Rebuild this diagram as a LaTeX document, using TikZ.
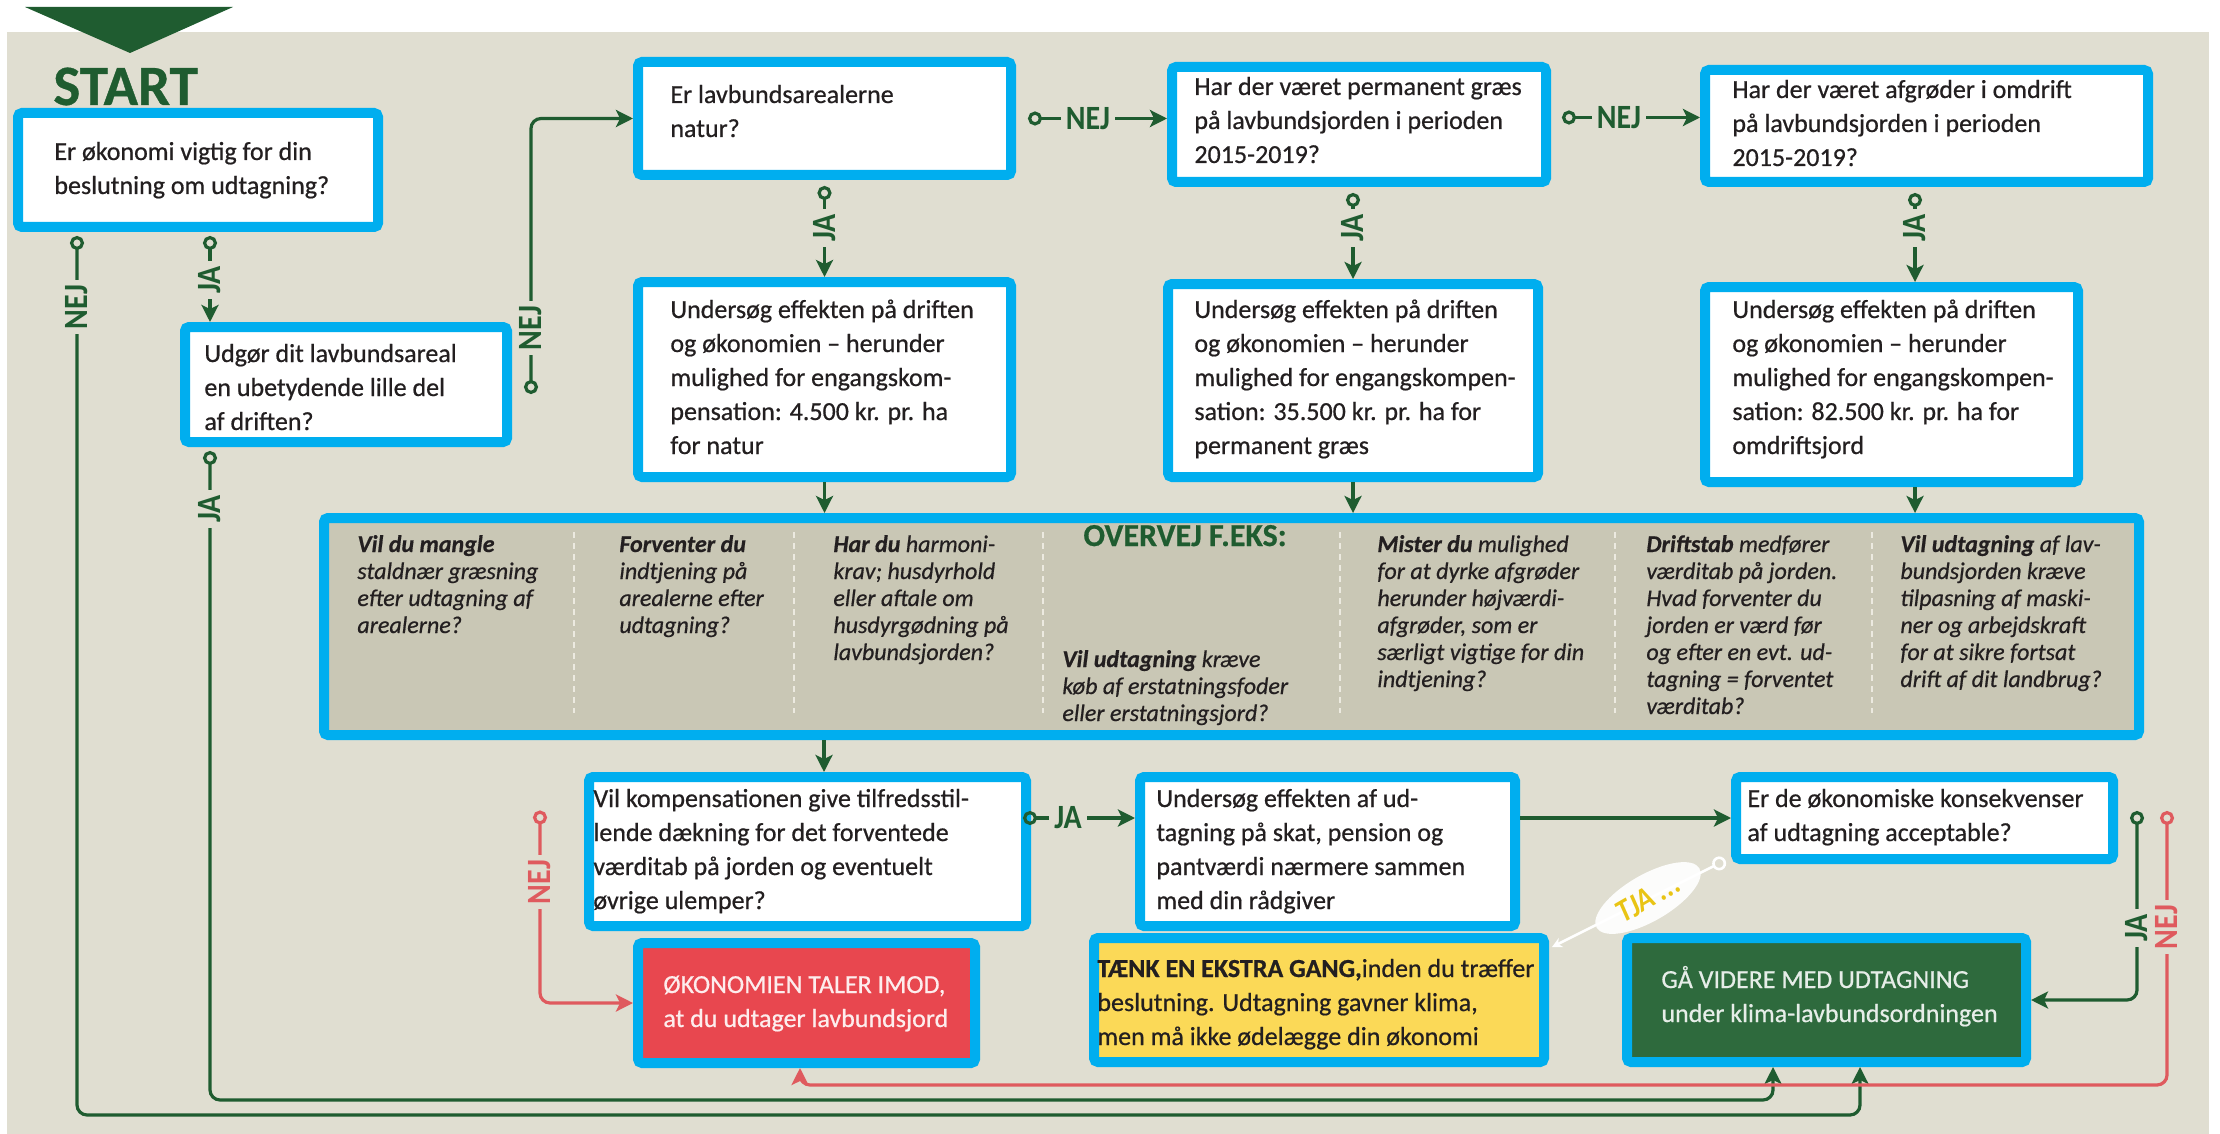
\documentclass[tikz,border=0pt]{standalone}
\usepackage{fontspec}
\setmainfont[FakeBold=0.6]{Carlito}
\newfontfamily\lblf[FakeStretch=0.88]{Carlito}
\usetikzlibrary{arrows.meta,calc,shapes.geometric}
\definecolor{beige}{HTML}{E0DED1}
\definecolor{cyanb}{HTML}{00AEEF}
\definecolor{dgreen}{HTML}{1F5C30}
\definecolor{lgreen}{HTML}{2E6A3D}
\definecolor{redb}{HTML}{E8474F}
\definecolor{redl}{HTML}{DF5A5E}
\definecolor{yel}{HTML}{FBD957}
\definecolor{bandc}{HTML}{C9C7B5}
\definecolor{txt}{HTML}{231F20}
\definecolor{sepc}{HTML}{ECEAE0}
\definecolor{tjay}{HTML}{E9C414}
\newcommand\mytxt[1]{\begin{tabular}[t]{@{}l@{}}#1\end{tabular}}
\tikzset{
  box/.style={draw=cyanb, line width=5pt, rounded corners=2pt, inner sep=0pt},
  wbox/.style={box, fill=white},
  tx/.style={anchor=base west, inner sep=0pt, text=txt, font=\fontsize{13}{17}\selectfont},
  btx/.style={anchor=base west, inner sep=0pt, text=txt, font=\itshape\fontsize{12}{13.5}\selectfont},
  gl/.style={draw=dgreen, line width=1.6pt, rounded corners=5pt},
  rl/.style={draw=redl, line width=1.6pt, rounded corners=5pt},
  arr/.style={arrows={-Stealth[length=8.5pt,width=8.5pt,inset=2pt]}},
  cyarr/.style={arrows={Circle[open,length=7pt,width=7pt]-Stealth[length=8.5pt,width=8.5pt,inset=2pt]}},
  lbl/.style={fill=beige, inner xsep=2.5pt, inner ysep=0pt, text=dgreen, font=\lblf\bfseries\fontsize{17}{17}\selectfont},
  rlbl/.style={lbl, text=redl},
  sepl/.style={draw=sepc, line width=1pt, dash pattern=on 3pt off 2.5pt}
}
\begin{document}
\begin{tikzpicture}[x=0.5pt,y=-0.5pt]
\useasboundingbox (0,0) rectangle (2220,1134);
\fill[white] (0,0) rectangle (2220,1134);
\fill[beige] (7,32) rectangle (2209,1134);
\fill[dgreen] (25,7) -- (233,7) -- (130,53) -- cycle;
\node[anchor=base west, inner sep=0pt, text=dgreen, font=\bfseries\fontsize{28.5}{28.5}\selectfont] (start) at (53,105) {START};

% boxes
\node[wbox, minimum width=180pt, minimum height=57pt] (q1) at (198,170) {};
\node[wbox, minimum width=161pt, minimum height=57.5pt] (q2) at (346,384.5) {};
\node[wbox, minimum width=186.5pt, minimum height=56.5pt] (q3) at (824.5,118.5) {};
\node[wbox, minimum width=187pt, minimum height=57.5pt] (q4) at (1359,124.5) {};
\node[wbox, minimum width=221.5pt, minimum height=56pt] (q5) at (1926.5,126) {};
\node[wbox, minimum width=186.5pt, minimum height=97.5pt] (u1) at (824.5,379.5) {};
\node[wbox, minimum width=185pt, minimum height=96.5pt] (u2) at (1353,380.5) {};
\node[wbox, minimum width=186.5pt, minimum height=97.5pt] (u3) at (1891.5,384.5) {};
\node[box, fill=bandc, minimum width=907.5pt, minimum height=108.5pt] (band) at (1231.5,626.5) {};
\node[wbox, minimum width=218.5pt, minimum height=74.5pt] (q6) at (807.5,851.5) {};
\node[wbox, minimum width=187.5pt, minimum height=74.5pt] (u4) at (1327.5,851.5) {};
\node[wbox, minimum width=188.5pt, minimum height=41pt] (q7) at (1924.5,818) {};
\node[box, fill=redb, minimum width=168.5pt, minimum height=60pt] (r) at (806.5,1003) {};
\node[box, fill=yel, minimum width=225pt, minimum height=62pt] (y) at (1319,1000) {};
\node[box, fill=lgreen, minimum width=199.5pt, minimum height=62pt] (g) at (1826.5,1000) {};

% texts
\node[tx] (t1) at (54,160) {\mytxt{Er økonomi vigtig for din\\beslutning om udtagning?}};
\node[tx] (t2) at (204,362) {\mytxt{Udgør dit lavbundsareal\\en ubetydende lille del\\af driften?}};
\node[tx] (t3) at (670,103) {\mytxt{Er lavbundsarealerne\\natur?}};
\node[tx] (t4) at (1194,95) {\mytxt{Har der været permanent græs\\på lavbundsjorden i perioden\\2015-2019?}};
\node[tx] (t5) at (1732,98) {\mytxt{Har der været afgrøder i omdrift\\på lavbundsjorden i perioden\\2015-2019?}};
\node[tx] (t6) at (670,318) {\mytxt{Undersøg effekten på driften\\og økonomien – herunder\\mulighed for engangskom-\\pensation: 4.500 kr. pr. ha\\for natur}};
\node[tx] (t7) at (1194,318) {\mytxt{Undersøg effekten på driften\\og økonomien – herunder\\mulighed for engangskompen-\\sation: 35.500 kr. pr. ha for\\permanent græs}};
\node[tx] (t8) at (1732,318) {\mytxt{Undersøg effekten på driften\\og økonomien – herunder\\mulighed for engangskompen-\\sation: 82.500 kr. pr. ha for\\omdriftsjord}};
\node[tx] (t9) at (593,807) {\mytxt{Vil kompensationen give tilfredsstil-\\lende dækning for det forventede\\værditab på jorden og eventuelt\\øvrige ulemper?}};
\node[tx] (t10) at (1156,807) {\mytxt{Undersøg effekten af ud-\\tagning på skat, pension og\\pantværdi nærmere sammen\\med din rådgiver}};
\node[tx] (t11) at (1747,807) {\mytxt{Er de økonomiske konsekvenser\\af udtagning acceptable?}};
\node[tx, text=white!90!redb] (t12) at (663,993) {\mytxt{ØKONOMIEN TALER IMOD,\\at du udtager lavbundsjord}};
\node[tx] (t13) at (1097,977) {\mytxt{\textbf{TÆNK EN EKSTRA GANG,}inden du træffer\\beslutning. Udtagning gavner klima,\\men må ikke ødelægge din økonomi}};
\node[tx, text=white!88!lgreen] (t14) at (1661,988) {\mytxt{GÅ VIDERE MED UDTAGNING\\under klima-lavbundsordningen}};

% band contents
\draw[sepl] (574,532) -- (574,713);
\draw[sepl] (794,532) -- (794,713);
\draw[sepl] (1043,532) -- (1043,713);
\draw[sepl] (1340,532) -- (1340,713);
\draw[sepl] (1615,532) -- (1615,713);
\draw[sepl] (1872,532) -- (1872,713);
\node[anchor=base, inner sep=0pt, text=dgreen, font=\bfseries\fontsize{16}{16}\selectfont] (ov) at (1185,546) {OVERVEJ F.EKS:};
\node[btx] (c1) at (357,552) {\mytxt{\textbf{Vil du mangle}\\staldnær græsning\\efter udtagning af\\arealerne?}};
\node[btx] (c2) at (619,552) {\mytxt{\textbf{Forventer du}\\indtjening på\\arealerne efter\\udtagning?}};
\node[btx] (c3) at (833,552) {\mytxt{\textbf{Har du} harmoni-\\krav; husdyrhold\\eller aftale om\\husdyrgødning på\\lavbundsjorden?}};
\node[btx] (c4) at (1062,667) {\mytxt{\textbf{Vil udtagning} kræve\\køb af erstatningsfoder\\eller erstatningsjord?}};
\node[btx] (c5) at (1377,552) {\mytxt{\textbf{Mister du} mulighed\\for at dyrke afgrøder\\herunder højværdi-\\afgrøder, som er\\særligt vigtige for din\\indtjening?}};
\node[btx] (c6) at (1646,552) {\mytxt{\textbf{Driftstab} medfører\\værditab på jorden.\\Hvad forventer du\\jorden er værd før\\og efter en evt. ud-\\tagning = forventet\\værditab?}};
\node[btx] (c7) at (1900,552) {\mytxt{\textbf{Vil udtagning} af lav-\\bundsjorden kræve\\tilpasning af maski-\\ner og arbejdskraft\\for at sikre fortsat\\drift af dit landbrug?}};

% connectors
\draw[gl, cyarr] ($(q1.south west)+(64,4)$) |- ($(g.south)+(33.5,48)$) -- ($(g.south)+(33.5,0)$);
\draw[gl, cyarr] ($(q2.south west)+(30,4)$) |- ($(g.south)+(-53.5,33)$) -- ($(g.south)+(-53.5,0)$);
\draw[rl, cyarr] ($(q7.east)+(49,-7)$) |- ($(r.south)+(-6.5,17)$) -- ($(r.south)+(-6.5,0)$);
\draw[gl, cyarr] ($(q1.south west)+(197,4)$) -- ($(q2.north west)+(30,0)$);
\draw[gl, cyarr] ($(q2.east)+(19,9.5)$) |- (q3.west);
\draw[gl, cyarr] ($(q3.east)+(12,0)$) -- (q3.east -| q4.west);
\draw[gl, cyarr] ($(q4.east)+(11,-7)$) -- ($(q4.east -| q5.west)+(0,-7)$);
\draw[gl, cyarr] ($(q3.south)+(0,6)$) -- (u1.north);
\draw[gl, cyarr] ($(q4.south -| u2.north)+(0,6)$) -- (u2.north);
\draw[gl, cyarr] ($(q5.south)+(-11.5,6)$) -- ($(u3.north)+(23.5,0)$);
\draw[gl, arr] (u1.south) -- (u1.south |- band.north);
\draw[gl, arr] (u2.south) -- (u2.south |- band.north);
\draw[gl, arr] ($(u3.south)+(23.5,0)$) -- ($(u3.south |- band.north)+(23.5,0)$);
\draw[gl, arr] ($(q6.north |- band.south)+(16.5,0)$) -- ($(q6.north)+(16.5,0)$);
\draw[gl, cyarr] ($(q6.east)+(-8,-33.5)$) -- ($(q6.east -| u4.west)+(0,-33.5)$);
\draw[gl, arr] (u4.east |- q7.west) -- (q7.west);
\draw[gl, cyarr] ($(q7.east)+(19,-7)$) |- (g.east);
\draw[rl, cyarr] ($(q6.west)+(-44,-41)$) |- (r.west);
\draw[draw=white, line width=1.3pt, arrows={Circle[open,length=7pt,width=7pt]-Stealth[length=5pt,width=5pt]}] ($(q7.south west)+(-5.6,-3.7)$) -- ($(y.north east)+(3,14)$);

% labels
\node[lbl, rotate=90] (l1) at (77,307) {NEJ};
\node[lbl, rotate=90] (l2) at (210,280) {JA};
\node[lbl, rotate=90] (l3) at (531,328) {NEJ};
\node[lbl] (l4) at (1088,118.5) {NEJ};
\node[lbl] (l5) at (1619,117.5) {NEJ};
\node[lbl, rotate=90] (l6) at (824.5,228) {JA};
\node[lbl, rotate=90] (l7) at (1353,228) {JA};
\node[lbl, rotate=90] (l8) at (1915,228) {JA};
\node[lbl] (l9) at (1068,818) {JA};
\node[lbl, rotate=90] (l10) at (2137,928) {JA};
\node[rlbl, rotate=90] (l11) at (2167,927) {NEJ};
\node[rlbl, rotate=90] (l12) at (540,882) {NEJ};
\node[lbl, rotate=90] (l13) at (210,509) {JA};
\node[ellipse, fill=white, fill opacity=0.92, text opacity=1, inner xsep=4pt, inner ysep=3pt, rotate=30, text=tjay, font=\lblf\bfseries\itshape\fontsize{16}{16}\selectfont] (tja) at (1648,898) {TJA ...};
\end{tikzpicture}
\end{document}
